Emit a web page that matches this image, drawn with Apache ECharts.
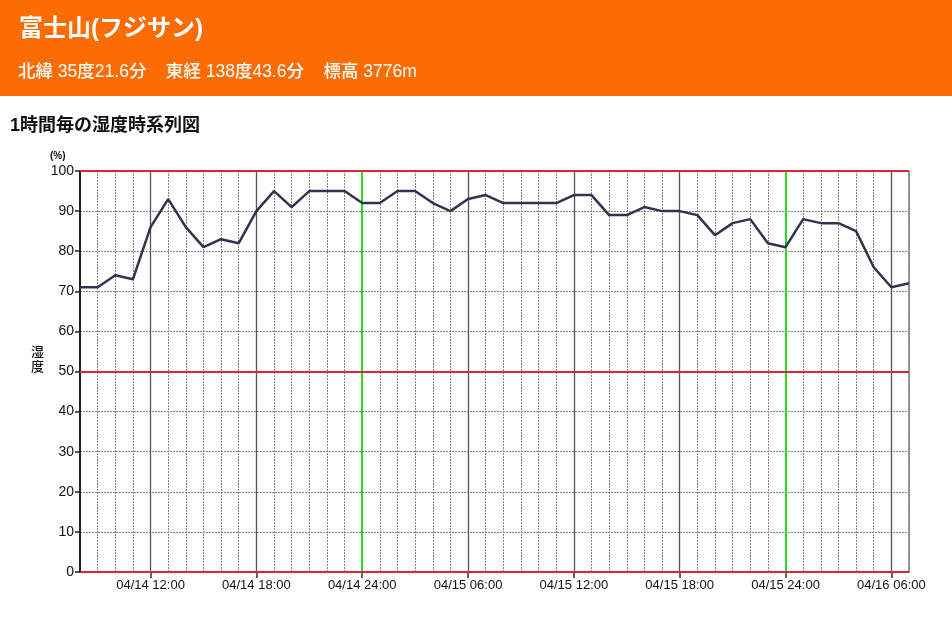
<!DOCTYPE html>
<html><head><meta charset="utf-8">
<script src="https://cdn.jsdelivr.net/npm/echarts@6/dist/echarts.min.js"></script>
<style>html,body{margin:0;padding:0;background:#fff}#c{width:952px;height:623px}</style>
</head><body><div id="c"></div>
<script>
const headerTitle = '富士山(フジサン)';
const headerSub = '北緯 35度21.6分    東経 138度43.6分    標高 3776m';
const chartTitle = '1時間毎の湿度時系列図';
const categories = [
  '04/14 08:00','04/14 09:00','04/14 10:00','04/14 11:00','04/14 12:00','04/14 13:00','04/14 14:00','04/14 15:00',
  '04/14 16:00','04/14 17:00','04/14 18:00','04/14 19:00','04/14 20:00','04/14 21:00','04/14 22:00','04/14 23:00',
  '04/14 24:00','04/15 01:00','04/15 02:00','04/15 03:00','04/15 04:00','04/15 05:00','04/15 06:00','04/15 07:00',
  '04/15 08:00','04/15 09:00','04/15 10:00','04/15 11:00','04/15 12:00','04/15 13:00','04/15 14:00','04/15 15:00',
  '04/15 16:00','04/15 17:00','04/15 18:00','04/15 19:00','04/15 20:00','04/15 21:00','04/15 22:00','04/15 23:00',
  '04/15 24:00','04/16 01:00','04/16 02:00','04/16 03:00','04/16 04:00','04/16 05:00','04/16 06:00','04/16 07:00'
];
const humidity = [
  71,71,74,73,86,93,86,81,83,82,90,95,91,95,95,95,
  92,92,95,95,92,90,93,94,92,92,92,92,94,94,89,89,91,90,90,89,84,87,88,82,
  81,88,87,87,85,76,71,72
];
const yTicks = [0,10,20,30,40,50,60,70,80,90,100];
const redLevels = [0,50,100];

const font = '"Liberation Sans","Noto Sans CJK JP",sans-serif';
const isMajor = (i) => i % 6 === 4;
const vLines = categories.filter((c,i)=>isMajor(i)).map(c => ({
  xAxis: c,
  lineStyle: c.endsWith('24:00') ? {color:'#22dd22', width:2, type:'solid'} : {color:'#555', width:1.3, type:'solid'}
}));
const hLines = redLevels.map(v => ({yAxis: v, lineStyle:{color:'#d2283c', width:2, type:'solid'}}));

const chart = echarts.init(document.getElementById('c'), null, {renderer:'canvas'});
chart.setOption({
  animation:false,
  backgroundColor:'#fff',
  textStyle:{fontFamily:font},
  graphic:[
    {type:'rect', left:0, top:0, shape:{width:952, height:96}, style:{fill:'#fc6c03'}, z:0},
    {type:'text', left:19, top:17, style:{text:headerTitle, fill:'#fff', font:'bold 24px "Liberation Sans","Noto Sans CJK JP",sans-serif'}},
    {type:'text', left:18, top:63, style:{text:headerSub, fill:'#fff', font:'500 17.5px "Liberation Sans","Noto Sans CJK JP",sans-serif'}},
    {type:'text', left:10, top:117, style:{text:chartTitle, fill:'#111', font:'bold 18px "Liberation Sans","Noto Sans CJK JP",sans-serif'}},
    {type:'text', left:50, top:151, style:{text:'(%)', fill:'#111', font:'bold 10px "Liberation Sans",sans-serif'}},
    {type:'text', left:31, top:344, style:{text:'湿\n度', fill:'#111', lineHeight:15, font:'500 13px "Noto Sans CJK JP",sans-serif'}}
  ],
  grid:{left:80, right:43, top:171, bottom:51, show:true, borderColor:'#333', borderWidth:1},
  xAxis:{
    type:'category', data:categories, boundaryGap:false,
    axisLine:{show:true, lineStyle:{color:'#222', width:1}},
    axisTick:{show:true, interval:(i)=>isMajor(i), length:6, lineStyle:{color:'#333', width:1.5}},
    axisLabel:{interval:(i)=>isMajor(i), fontSize:13, color:'#111', margin:7, fontFamily:font},
    splitLine:{show:true, interval:0, lineStyle:{color:'#888', width:1, type:[2,1]}}
  },
  yAxis:{
    type:'value', min:0, max:100, interval:10,
    axisLine:{show:true, lineStyle:{color:'#222', width:2}},
    axisTick:{show:true, length:5, lineStyle:{color:'#222', width:1.5}},
    axisLabel:{fontSize:14, color:'#111', margin:6, fontFamily:font},
    splitLine:{show:true, lineStyle:{color:'#888', width:1, type:[2,1]}}
  },
  series:[{
    type:'line', data:humidity, symbol:'none', z:3,
    lineStyle:{color:'#33334f', width:2.5},
    markLine:{silent:true, symbol:'none', label:{show:false}, animation:false, z:2,
      data: vLines.concat(hLines)}
  }]
});
</script></body></html>
